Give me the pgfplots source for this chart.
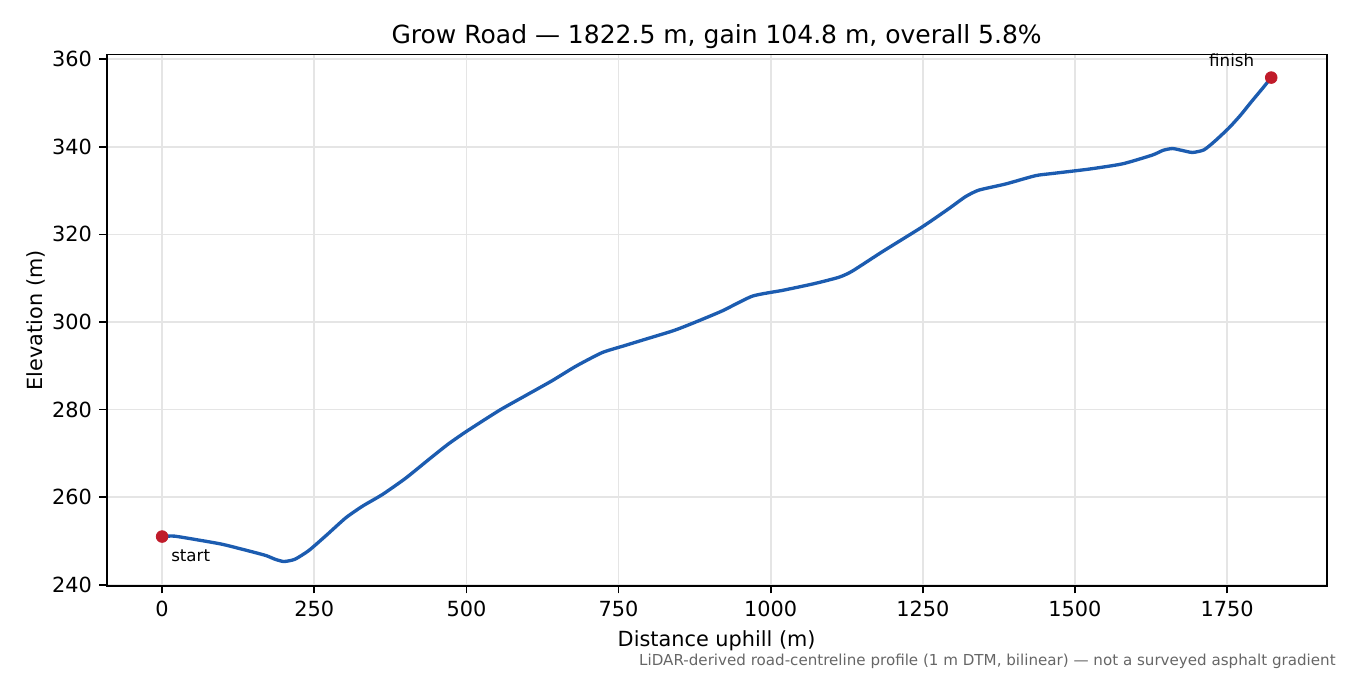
\documentclass[border=0pt]{standalone}
\usepackage{fontspec}
\setmainfont{DejaVu Sans}
\usepackage{pgfplots}
\pgfplotsset{compat=1.18}
\definecolor{lineblue}{HTML}{1C5CB0}
\definecolor{dotred}{HTML}{C01B2A}
\definecolor{notegray}{HTML}{666666}
\begin{document}
\begin{tikzpicture}
\useasboundingbox (0,0) rectangle (648pt,324pt);
\begin{axis}[
    at={(51.2pt,42.7pt)}, anchor=south west,
    scale only axis,
    width=585.6pt, height=255.2pt,
    xmin=-91.1, xmax=1913.6,
    ymin=239.7, ymax=361.1,
    clip=false,
    xtick={0,250,...,1750},
    ytick={240,260,...,360},
    /pgf/number format/assume math mode=true,
    /pgf/number format/1000 sep={},
    tick label style={font=\fontsize{10}{12}\selectfont},
    tick align=outside, tick pos=left,
    major tick length=3.5pt,
    tick style={black, line width=0.8pt},
    axis line style={black, line width=0.8pt},
    grid=major,
    major grid style={black!10, line width=0.8pt},
    every axis title shift=0pt,
    title={Grow Road — 1822.5 m, gain 104.8 m, overall 5.8\%},
    title style={font=\fontsize{12}{14}\selectfont, at={(axis description cs:0.5,1.0212)}, anchor=base},
    xlabel={Distance uphill (m)},
    xlabel style={font=\fontsize{10}{12}\selectfont, at={(axis description cs:0.5,-0.1129)}, anchor=base},
    ylabel={Elevation (m)},
    ylabel style={font=\fontsize{10}{12}\selectfont, at={(axis description cs:-0.0523,0.5)}, anchor=base},
]
\addplot[color=lineblue, line width=1.6pt, smooth, tension=0.35] coordinates {
(0,251.0) (20,251.1) (60,250.2) (100,249.2) (154,247.3) (172,246.6)
(186,245.8) (200,245.3) (218,245.8) (241,247.8) (270,251.3) (302,255.3)
(330,258.0) (362,260.6) (400,264.3) (440,268.8) (470,272.1) (500,275.0)
(554,279.8) (600,283.4) (641,286.6) (680,289.9) (723,293.0) (760,294.6)
(800,296.3) (840,298.0) (870,299.6) (920,302.5) (970,305.9) (1019,307.2)
(1070,308.7) (1112,310.2) (1134,311.6) (1183,316.0) (1249,321.7) (1293,325.9)
(1320,328.6) (1342,330.1) (1386,331.5) (1435,333.4) (1463,333.9) (1523,334.9)
(1578,336.1) (1627,338.1) (1645,339.2) (1660,339.6) (1675,339.2) (1693,338.7)
(1712,339.3) (1730,341.3) (1753,344.3) (1772,347.2) (1790,350.3) (1808,353.3) (1822.5,355.8)
};
\addplot[only marks, mark=*, mark size=2.8pt, color=dotred] coordinates {(0,251.0) (1822.5,355.8)};
\node[anchor=base west, inner sep=0pt, font=\fontsize{8}{10}\selectfont, xshift=4.2pt, yshift=-12pt] at (axis cs:0,251.0) {start};
\node[anchor=base east, inner sep=0pt, font=\fontsize{8}{10}\selectfont, xshift=-8pt, yshift=5.2pt] at (axis cs:1822.5,355.8) {finish};
\end{axis}
\node[anchor=base east, inner sep=0pt, text=notegray, font=\fontsize{7.25}{9}\selectfont] at (641.3pt,4.4pt) {LiDAR-derived road-centreline profile (1 m DTM, bilinear) — not a surveyed asphalt gradient};
\end{tikzpicture}
\end{document}
